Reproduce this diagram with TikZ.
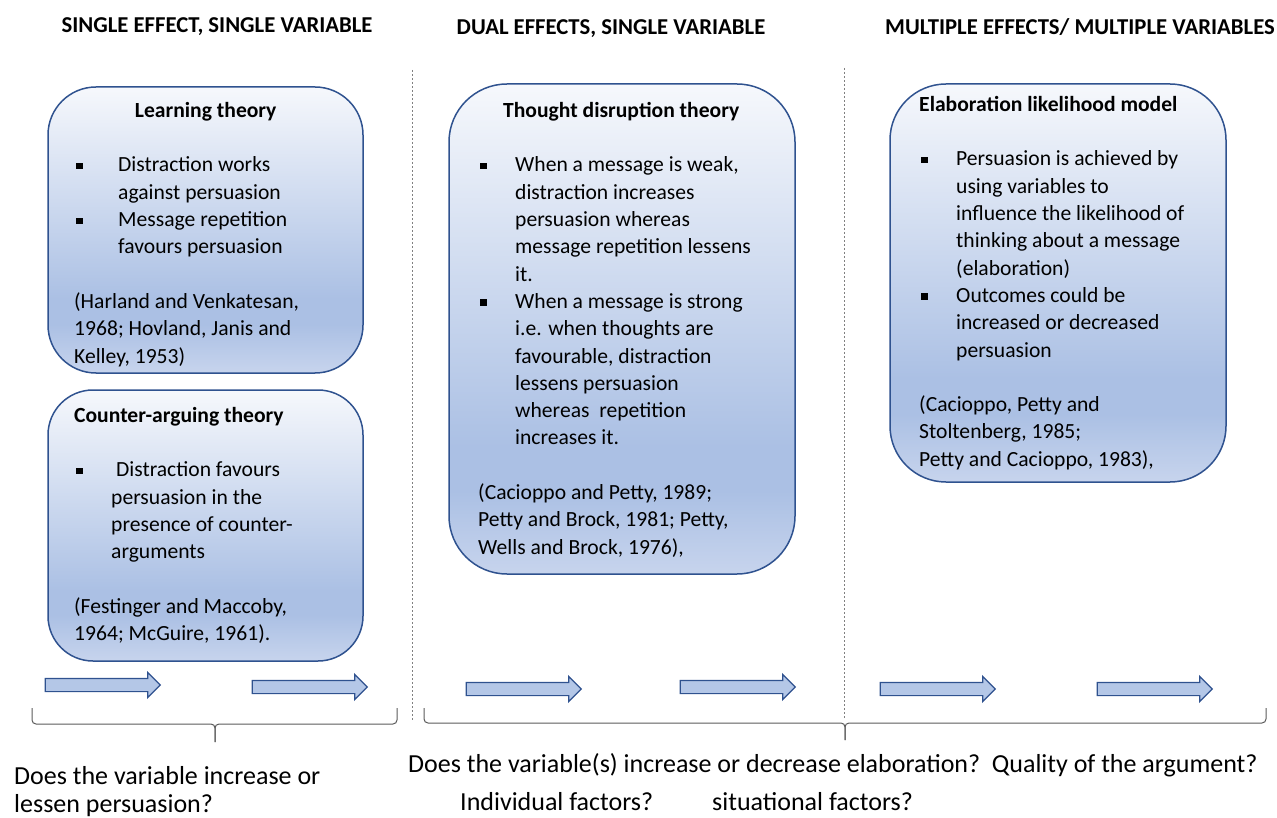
\documentclass[tikz,border=0pt]{standalone}
\usepackage{fontspec}
\setmainfont{Carlito}
\usetikzlibrary{shapes.arrows}

\definecolor{cardline}{RGB}{47,82,143}
\definecolor{cardA}{RGB}{246,248,252}
\definecolor{cardB}{RGB}{171,192,228}
\definecolor{cardC}{RGB}{199,212,237}
\definecolor{arrowfill}{RGB}{180,199,231}
\definecolor{rulegray}{RGB}{128,128,128}

% light-to-blue fill of the theory cards (top = 75bp, bottom = 25bp)
\pgfdeclareverticalshading{cardfade}{100bp}{color(0bp)=(cardC); color(25bp)=(cardC);
  color(33.5bp)=(cardB); color(38bp)=(cardB); color(75bp)=(cardA); color(100bp)=(cardA)}

% square bullet and hanging indent
\newcommand\itm[1]{\makebox[#1][l]{\hspace*{2pt}\rule[2.5pt]{6.5pt}{6.5pt}}}
\newcommand\cnt[1]{\hspace*{#1}}

\begin{document}
\begin{tikzpicture}[
  x=1pt, y=-1pt,
  card/.style={draw=cardline, line width=1.5pt, shading=cardfade, inner sep=0pt},
  cardtext/.style={anchor=north west, inner sep=0pt, align=left,
    font=\fontsize{21.6}{27.3}\selectfont},
  heading/.style={font=\fontsize{22.7}{26}\selectfont\bfseries, inner sep=0pt},
  question/.style={anchor=base west, inner sep=0pt, font=\fontsize{26}{28}\selectfont},
  blockarrow/.style={single arrow, draw=cardline, fill=arrowfill, line width=1.2pt,
    minimum height=115pt, inner xsep=0pt, inner ysep=6pt, text height=0pt, text depth=0pt,
    single arrow head extend=6pt},
  divider/.style={draw=rulegray, line width=1pt, dash pattern=on 2pt off 2pt},
  bracket/.style={draw=rulegray!70!black, line width=1pt, rounded corners=4pt}
]
\useasboundingbox (0,0) rectangle (1277,818);

% column headings
\node[heading] (headsingle) at (217,27) {SINGLE EFFECT, SINGLE VARIABLE};
\node[heading] (headdual) at (611,29) {DUAL EFFECTS, SINGLE VARIABLE};
\node[heading] (headmulti) at (1080,27) {MULTIPLE EFFECTS/ MULTIPLE VARIABLES};

% column dividers
\coordinate (div1top) at (412,70);
\coordinate (div1bot) at (412,720);
\coordinate (div2top) at (844,68);
\coordinate (div2bot) at (844,718);
\draw[divider] (div1top) -- (div1bot);
\draw[divider] (div2top) -- (div2bot);

% theory cards
\node[card, minimum width=315pt, minimum height=286pt, rounded corners=48pt] (learning) at (205.5,230) {};
\node[card, minimum width=315pt, minimum height=271pt, rounded corners=45pt] (counter) at (205.5,525.5) {};
\node[card, minimum width=346pt, minimum height=490pt, rounded corners=58pt] (disruption) at (622,329) {};
\node[card, minimum width=336pt, minimum height=398pt, rounded corners=56pt] (elm) at (1058,283) {};

\node[cardtext] (learning-text) at (74,98) {\strut\makebox[263pt][c]{\bfseries Learning theory}\\[27.3pt]
  \itm{44pt}Distraction works\\
  \cnt{44pt}against persuasion\\
  \itm{44pt}Message repetition\\
  \cnt{44pt}favours persuasion\\[27.3pt]
  (Harland and Venkatesan,\\
  1968; Hovland, Janis and\\
  Kelley, 1953)};

\node[cardtext] (counter-text) at (74,403) {\strut\textbf{Counter-arguing theory}\\[27.3pt]
  \itm{37pt}\ Distraction favours\\
  \cnt{37pt}persuasion in the\\
  \cnt{37pt}presence of counter-\\
  \cnt{37pt}arguments\\[27.3pt]
  (Festinger and Maccoby,\\
  1964; McGuire, 1961).};

\node[cardtext] (disruption-text) at (478,98) {\strut\makebox[286pt][c]{\bfseries Thought disruption theory}\\[27.3pt]
  \itm{37pt}When a message is weak,\\
  \cnt{37pt}distraction increases\\
  \cnt{37pt}persuasion whereas\\
  \cnt{37pt}message repetition lessens\\
  \cnt{37pt}it.\\
  \itm{37pt}When a message is strong\\
  \cnt{37pt}i.e. when thoughts are\\
  \cnt{37pt}favourable, distraction\\
  \cnt{37pt}lessens persuasion\\
  \cnt{37pt}whereas\ \ repetition\\
  \cnt{37pt}increases it.\\[27.3pt]
  (Cacioppo and Petty, 1989;\\
  Petty and Brock, 1981; Petty,\\
  Wells and Brock, 1976),};

\node[cardtext] (elm-text) at (919,92) {\strut\textbf{Elaboration likelihood model}\\[27.3pt]
  \itm{37pt}Persuasion is achieved by\\
  \cnt{37pt}using variables to\\
  \cnt{37pt}influence the likelihood of\\
  \cnt{37pt}thinking about a message\\
  \cnt{37pt}(elaboration)\\
  \itm{37pt}Outcomes could be\\
  \cnt{37pt}increased or decreased\\
  \cnt{37pt}persuasion\\[27.3pt]
  (Cacioppo, Petty and\\
  Stoltenberg, 1985;\\
  Petty and Cacioppo, 1983),};

% block arrows
\node[blockarrow] (a1) at (99.5,685) {};
\node[blockarrow] (a2) at (306.5,687) {};
\node[blockarrow] (a3) at (520.5,689) {};
\node[blockarrow] (a4) at (734.5,687) {};
\node[blockarrow] (a5) at (934.5,689) {};
\node[blockarrow] (a6) at (1151.5,689) {};

% braces
\coordinate (b1l) at (32,708);
\coordinate (b1r) at (397,708);
\coordinate (b1tip) at (215,742);
\draw[bracket] (b1l) |- (215,724) -- (b1tip);
\draw[bracket] (b1r) |- (215,724) -- (b1tip);
\coordinate (b2l) at (424,708);
\coordinate (b2r) at (1266,708);
\coordinate (b2tip) at (845,740);
\draw[bracket] (b2l) |- (845,723) -- (b2tip);
\draw[bracket] (b2r) |- (845,723) -- (b2tip);

% questions under the braces
\node[question] (qsingle) at (14,784) {Does the variable increase or};
\node[question] (qsingle2) at (14,812) {lessen persuasion?};
\node[question] (qdual) at (408,772) {Does the variable(s) increase or decrease elaboration?\ \ Quality of the argument?};
\node[question] (qindiv) at (460,810) {Individual factors?};
\node[question] (qsitu) at (712,810) {situational factors?};
\end{tikzpicture}
\end{document}
